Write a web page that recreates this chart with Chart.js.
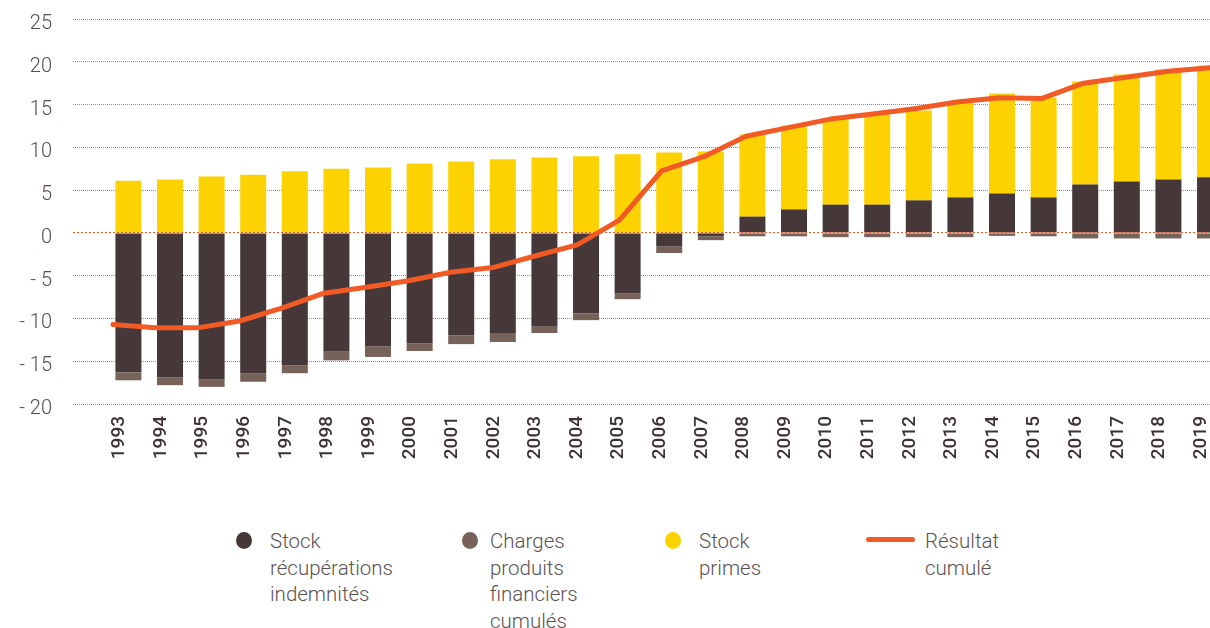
<!DOCTYPE html>
<html lang="fr">
<head>
<meta charset="utf-8">
<script src="https://cdn.jsdelivr.net/npm/chart.js@4/dist/chart.umd.min.js"></script>
<style>
  html, body { margin: 0; padding: 0; overflow: hidden; background: #fff; }
  #wrap { position: absolute; left: 0; top: 0; width: 1250px; height: 470px; }
  .leg { position: absolute; top: 528px; font: 300 20.5px Roboto, sans-serif; line-height: 26.5px; color: #5a5252; }
  .mk { position: absolute; }
</style>
</head>
<body>
<div id="wrap"><canvas id="chart"></canvas></div>
<div id="legend"></div>
<script>
const years = [1993, 1994, 1995, 1996, 1997, 1998, 1999, 2000, 2001, 2002, 2003, 2004, 2005, 2006,
               2007, 2008, 2009, 2010, 2011, 2012, 2013, 2014, 2015, 2016, 2017, 2018, 2019];

const stockRecup = [-16.3, -16.9, -17.1, -16.4, -15.5, -13.85, -13.25, -12.9, -12.0, -11.7, -10.9, -9.4, -7.05, -1.6,
                    -0.4, 1.9, 2.75, 3.3, 3.3, 3.8, 4.15, 4.6, 4.15, 5.65, 6.0, 6.25, 6.5];
const chargesFin = [-0.93, -0.9, -0.9, -1.0, -0.9, -1.05, -1.25, -0.9, -1.0, -1.05, -0.8, -0.8, -0.7, -0.75,
                    -0.45, -0.4, -0.4, -0.5, -0.5, -0.5, -0.5, -0.35, -0.4, -0.65, -0.65, -0.65, -0.65];
const stockPrimes = [6.1, 6.25, 6.6, 6.8, 7.2, 7.5, 7.65, 8.1, 8.35, 8.6, 8.8, 8.95, 9.2, 9.4,
                     9.5, 9.6, 9.8, 10.1, 10.7, 10.5, 11.2, 11.7, 11.65, 12.05, 12.5, 12.85, 13.05];
const resultat = [-10.7, -11.1, -11.1, -10.3, -8.8, -7.05, -6.35, -5.6, -4.6, -4.05, -2.7, -1.4, 1.5, 7.25,
                  8.9, 11.3, 12.3, 13.3, 13.9, 14.5, 15.3, 15.8, 15.7, 17.5, 18.2, 18.9, 19.3];

const yTicks = [-20, -15, -10, -5, 0, 5, 10, 15, 20, 25];

const seriesNames = [
  ['Stock', 'récupérations', 'indemnités'],
  ['Charges', 'produits', 'financiers', 'cumulés'],
  ['Stock', 'primes'],
  ['Résultat', 'cumulé']
];
const seriesColors = ['#463839', '#77625a', '#fcd300', '#f15a24'];

const GRID = '#948a8a';

const ctx = document.getElementById('chart').getContext('2d');
new Chart(ctx, {
  data: {
    labels: years,
    datasets: [
      {
        type: 'line', label: seriesNames[3].join(' '), data: resultat, xAxisID: 'x2', stack: 'line', order: 0,
        borderColor: seriesColors[3], borderWidth: 5, pointRadius: 0, tension: 0,
        borderJoinStyle: 'round', borderCapStyle: 'round'
      },
      { type: 'bar', label: seriesNames[0].join(' '), data: stockRecup, backgroundColor: seriesColors[0], stack: 'a', order: 1 },
      { type: 'bar', label: seriesNames[1].join(' '), data: chargesFin, backgroundColor: seriesColors[1], stack: 'a', order: 1 },
      { type: 'bar', label: seriesNames[2].join(' '), data: stockPrimes, backgroundColor: seriesColors[2], stack: 'a', order: 1 }
    ]
  },
  options: {
    responsive: true,
    maintainAspectRatio: false,
    animation: false,
    layout: { padding: { top: 19, left: 0, right: 0, bottom: 0 } },
    // grouped: false -> les barres restent centrées sur l'année malgré le second axe x de la courbe
    datasets: { bar: { grouped: false, categoryPercentage: 1, barPercentage: 0.625, borderWidth: 0 } },
    plugins: { legend: { display: false }, tooltip: { enabled: false } },
    scales: {
      x: {
        type: 'linear', stacked: true, offset: false,
        min: 1991.668, max: 2019.961,
        afterBuildTicks: (s) => { s.ticks = years.map(v => ({ value: v })); },
        afterFit: (s) => { s.height = 66; },
        grid: { display: false, drawTicks: false, offset: false },
        border: { display: false },
        ticks: {
          autoSkip: false, minRotation: 90, maxRotation: 90, padding: 12, labelOffset: -9,
          color: '#3c3234', font: { family: 'Roboto', size: 19, weight: 500 },
          callback: (v) => String(v)
        }
      },
      x2: {
        type: 'linear', display: false, offset: false,
        min: 1992.052, max: 2019.943
      },
      y: {
        type: 'linear', stacked: true, min: -20, max: 25,
        afterBuildTicks: (s) => { s.ticks = yTicks.map(v => ({ value: v })); },
        afterFit: (s) => { s.width = 73; },
        grid: {
          drawTicks: true, tickLength: 21, tickColor: 'rgba(0,0,0,0)', lineWidth: 1,
          color: (c) => c.tick && c.tick.value === 0 ? 'rgba(0,0,0,0)' : GRID
        },
        border: { display: false, dash: [1, 1] },
        ticks: {
          padding: 0, labelOffset: 5,
          color: '#564c4d', font: { family: 'Roboto', size: 20, weight: 300 },
          callback: (v) => v < 0 ? '- ' + Math.abs(v) : String(v)
        }
      },
      y2: {
        type: 'linear', position: 'left', min: -20, max: 25,
        afterBuildTicks: (s) => { s.ticks = [{ value: 0 }]; },
        afterFit: (s) => { s.width = 0; },
        grid: { drawTicks: false, z: 1, color: '#f15a24', lineWidth: 1 },
        border: { display: false, dash: [2, 2] },
        ticks: { display: false, padding: 0 }
      }
    }
  }
});

// légende HTML
const legendPos = [
  { mark: 244, text: 270 },
  { mark: 470, text: 490 },
  { mark: 673, text: 699 },
  { mark: 890, text: 925 }
];
const legend = document.getElementById('legend');
seriesNames.forEach((lines, i) => {
  const p = legendPos[i];
  const mk = document.createElement('div');
  mk.className = 'mk';
  if (i < 3) {
    Object.assign(mk.style, { left: (p.mark - 8) + 'px', top: '532px', width: '16px', height: '17px',
      borderRadius: '50%', background: seriesColors[i] });
  } else {
    Object.assign(mk.style, { left: '866px', top: '537px', width: '49px', height: '5px',
      borderRadius: '3px', background: seriesColors[i] });
  }
  legend.appendChild(mk);
  const t = document.createElement('div');
  t.className = 'leg';
  t.style.left = p.text + 'px';
  t.innerHTML = lines.join('<br>');
  legend.appendChild(t);
});
</script>
</body>
</html>
